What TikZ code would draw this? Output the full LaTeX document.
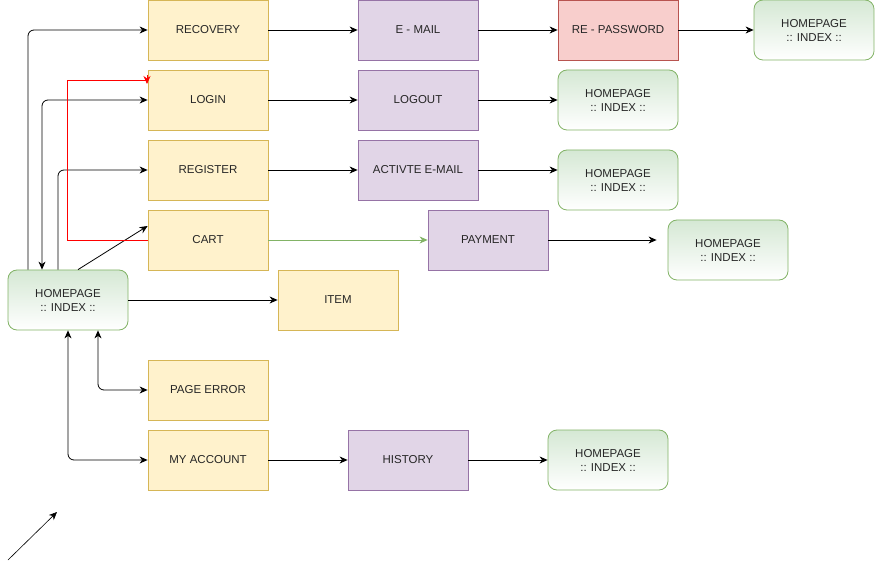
\documentclass[tikz,border=0pt]{standalone}
\usepackage{fontspec}
\setmainfont{Liberation Sans}
\usetikzlibrary{arrows.meta}
\definecolor{yelfill}{HTML}{FFF2CC}
\definecolor{yeldraw}{HTML}{D6B656}
\definecolor{purfill}{HTML}{E1D5E7}
\definecolor{purdraw}{HTML}{9673A6}
\definecolor{redfill}{HTML}{F8CECC}
\definecolor{reddraw}{HTML}{B85450}
\definecolor{grnfill}{HTML}{D5E8D4}
\definecolor{grndraw}{HTML}{82B366}
\begin{document}
\begin{tikzpicture}[x=1pt,y=-1pt]
        \tikzset{page/.style = {minimum width=120pt, minimum height=60pt, inner sep=0pt, line width=0.8pt,
                 align=center, text=black!85, font=\fontsize{11.5}{14}\selectfont},
                 yelbox/.style = {page, draw=yeldraw, fill=yelfill},
                 purbox/.style = {page, draw=purdraw, fill=purfill},
                 redbox/.style = {page, draw=reddraw, fill=redfill},
                 homebox/.style = {page, draw=grndraw, rounded corners=9pt, top color=grnfill, bottom color=white},
                 every path/.style = {line width=0.8pt},
                 >={Stealth[length=8pt,width=7pt,inset=2.5pt]}};
        \useasboundingbox (0,0) rectangle (875,569);
        % first row
        \node[yelbox] (recovery) at (208,30) {RECOVERY};
        \node[purbox] (email) at (418,30) {E - MAIL};
        \node[redbox] (repass) at (618,30) {RE - PASSWORD};
        \node[homebox] (home1) at (814,30) {HOMEPAGE\\:: INDEX ::};
        \draw[->] (recovery) to (email);
        \draw[->] (email) to (repass);
        \draw[->] (repass) to (home1);
        % second row
        \node[yelbox] (login) at (208,100) {LOGIN};
        \node[purbox] (logout) at (418,100) {LOGOUT};
        \node[homebox] (home2) at (618,100) {HOMEPAGE\\:: INDEX ::};
        \draw[->] (login) to (logout);
        \draw[->] (logout) to (home2);
        % third row
        \node[yelbox] (register) at (208,170) {REGISTER};
        \node[purbox] (activate) at (418,170) {ACTIVTE E-MAIL};
        \node[homebox] (home3) at (618,180) {HOMEPAGE\\:: INDEX ::};
        \draw[->] (register) to (activate);
        \draw[->] (activate.east) to (activate.east -| home3.west);
        % cart row
        \node[yelbox] (cart) at (208,240) {CART};
        \node[purbox] (payment) at (488,240) {PAYMENT};
        \node[homebox] (home4) at (728,250) {HOMEPAGE\\:: INDEX ::};
        \draw[->, grndraw] (cart) to (payment);
        \draw[->, shorten >=11pt] (payment.east) to (payment.east -| home4.west);
        % main page
        \node[homebox] (home) at (68,300) {HOMEPAGE\\:: INDEX ::};
        \node[yelbox] (item) at (338,300) {ITEM};
        \node[yelbox] (pageerror) at (208,390) {PAGE ERROR};
        \node[yelbox] (myaccount) at (208,460) {MY ACCOUNT};
        \node[purbox] (history) at (408,460) {HISTORY};
        \node[homebox] (home5) at (608,460) {HOMEPAGE\\:: INDEX ::};
        \draw[->] (myaccount) to (history);
        \draw[->] (history) to (home5);
        \draw[->] (home) to (item);
        \draw[->, rounded corners=6pt] ([xshift=-40pt]home.north) |- (recovery.west);
        \draw[<->, rounded corners=6pt] ([xshift=-26pt]home.north) |- (login.west);
        \draw[->, rounded corners=6pt] ([xshift=-10pt]home.north) |- (register.west);
        \draw[->] ([xshift=10pt]home.north) to ([yshift=14pt]cart.west);
        \draw[<->, rounded corners=6pt] ([xshift=30pt]home.south) |- (pageerror.west);
        \draw[<->, rounded corners=6pt] (home.south) |- (myaccount.west);
        % red link from cart back to login
        \coordinate (redtop) at (147,75);
        \coordinate (redend) at (147,84);
        \draw[red] (cart.west) -- (67,240) |- (147,80);
        \draw[->, red] (redtop) -- (redend);
        % loose arrow
        \coordinate (loose1) at (8,560);
        \coordinate (loose2) at (57,512);
        \draw[->, line width=0.6pt] (loose1) -- (loose2);
\end{tikzpicture}
\end{document}
